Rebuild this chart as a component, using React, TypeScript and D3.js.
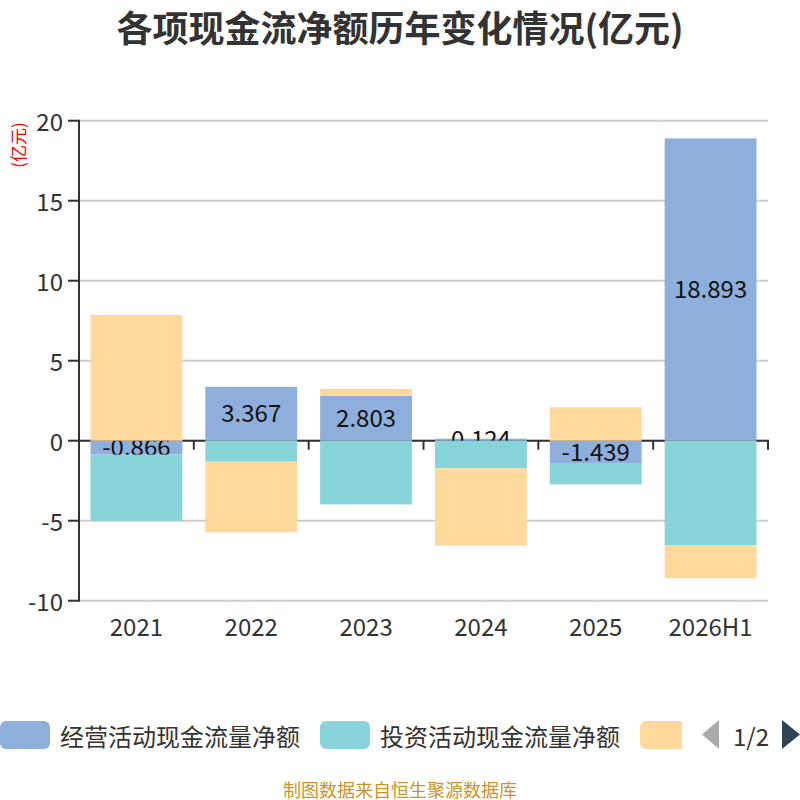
import * as d3 from 'd3';

// 各项现金流净额(亿元)
const years = ['2021', '2022', '2023', '2024', '2025', '2026H1'];
const seriesNames = ['经营活动现金流量净额', '投资活动现金流量净额', '筹资活动现金流量净额'];
const operating = [-0.866, 3.367, 2.803, 0.124, -1.439, 18.893];
const investing = [-4.13, -1.31, -3.98, -1.73, -1.29, -6.52];
const financing = [7.86, -4.42, 0.43, -4.83, 2.09, -2.08];
const colors = ['#8EAEDB', '#87D5D8', '#FED99B'];
const yTicks = [-10, -5, 0, 5, 10, 15, 20];

const W = 800;
const H = 800;
const font = '"Noto Sans CJK SC", "Noto Sans", sans-serif';

export default function App() {
  const left = 79;
  const right = 768;
  const top = 120.7;
  const bottom = 600.7;

  const x = d3.scaleBand<string>().domain(years).range([left, right]).padding(0);
  const y = d3.scaleLinear().domain([-10, 20]).range([bottom, top]);
  const barW = x.bandwidth() * 0.8;
  const barOff = x.bandwidth() * 0.1;

  // positive and negative parts stacked separately, like echarts
  const rows = years.map((yr, i) => ({ year: yr, s0: operating[i], s1: investing[i], s2: financing[i] }));
  const stacked = d3.stack<any>()
    .keys(['s0', 's1', 's2'])
    .offset(d3.stackOffsetDiverging)(rows);

  // legend: swatch + text, items laid out one after another
  const legendItems: { x: number; name: string; color: string }[] = [];
  let lx = 0;
  seriesNames.forEach((n, i) => {
    legendItems.push({ x: lx, name: n, color: colors[i] });
    lx += 50 + 10 + n.length * 24 + 20;
  });

  return (
    <svg width={W} height={H} style={{ position: 'absolute', left: 0, top: 0, fontFamily: font }}>
      <rect width={W} height={H} fill="#fff" />
      <defs>
        <clipPath id="legendClip">
          <rect x={0} y={700} width={682} height={70} />
        </clipPath>
      </defs>

      <text x={400} y={26} textAnchor="middle" dominantBaseline="central"
        fontSize={36} fontWeight="bold" fill="#333">各项现金流净额历年变化情况(亿元)</text>

      <text transform="translate(17,145) rotate(-90)" textAnchor="middle" dominantBaseline="central"
        fontSize={17} fill="#f00">(亿元)</text>

      {/* grid + y axis */}
      {yTicks.map(t => (
        <g key={t}>
          <line x1={left} x2={right} y1={y(t)} y2={y(t)} stroke="#ccc" strokeWidth={2} />
          <line x1={left - 11} x2={left} y1={y(t)} y2={y(t)} stroke="#333" strokeWidth={2} />
          <text x={left - 16} y={y(t)} textAnchor="end" dominantBaseline="central" fontSize={24} fill="#333">{t}</text>
        </g>
      ))}
      <line x1={left} x2={left} y1={top - 1} y2={bottom + 1} stroke="#333" strokeWidth={2} />

      {/* x axis on zero */}
      <line x1={left} x2={right + 1} y1={y(0)} y2={y(0)} stroke="#333" strokeWidth={2} />
      {years.map(yr => (
        <line key={yr} x1={x(yr)! + x.bandwidth()} x2={x(yr)! + x.bandwidth()} y1={y(0)} y2={y(0) + 9}
          stroke="#333" strokeWidth={2} />
      ))}
      {years.map(yr => (
        <text key={yr} x={x(yr)! + x.bandwidth() / 2} y={625} textAnchor="middle" dominantBaseline="central"
          fontSize={24} fill="#333">{yr}</text>
      ))}

      {/* bars, series by series; labels only on the first series */}
      {stacked.map((layer, si) => (
        <g key={si}>
          {layer.map((d, i) => (
            <rect key={i} x={x(years[i])! + barOff} width={barW}
              y={y(Math.max(d[0], d[1]))} height={Math.abs(y(d[0]) - y(d[1]))}
              fill={colors[si]} />
          ))}
          {si === 0 && layer.map((d, i) => (
            <text key={'l' + i} x={x(years[i])! + x.bandwidth() / 2} y={y((d[0] + d[1]) / 2) - 2}
              textAnchor="middle" dominantBaseline="central" fontSize={24} fill="#111">
              {operating[i]}
            </text>
          ))}
        </g>
      ))}

      {/* legend */}
      <g clipPath="url(#legendClip)">
        {legendItems.map(it => (
          <g key={it.name}>
            <rect x={it.x} y={721} width={50} height={28} rx={6} fill={it.color} />
            <text x={it.x + 60} y={735} dominantBaseline="central" fontSize={24} fill="#333">{it.name}</text>
          </g>
        ))}
      </g>
      <path d="M719,720 L702,734.5 L719,749 Z" fill="#aaa" />
      <text x={751} y={735} textAnchor="middle" dominantBaseline="central" fontSize={24} fill="#333">1/2</text>
      <path d="M782,720 L800,734.5 L782,749 Z" fill="#2f4554" />

      <text x={400} y={789} textAnchor="middle" dominantBaseline="central" fontSize={18} fill="#C8952B">
        制图数据来自恒生聚源数据库
      </text>
    </svg>
  );
}
